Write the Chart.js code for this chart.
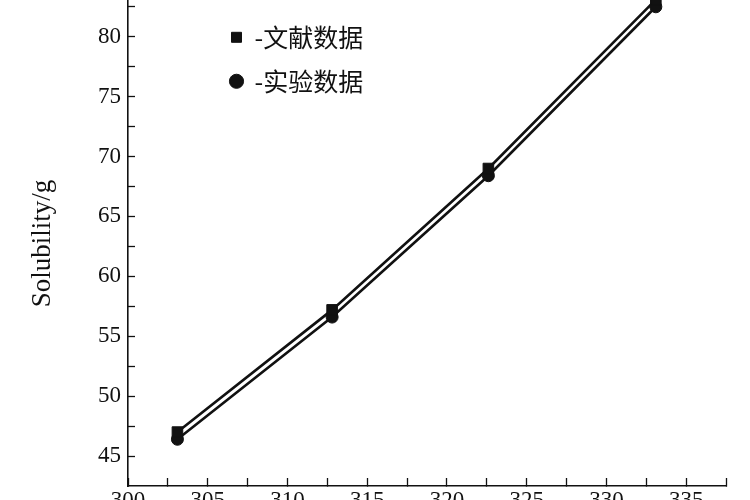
<!DOCTYPE html>
<html>
<head>
<meta charset="utf-8">
<script src="https://cdn.jsdelivr.net/npm/chart.js@4/dist/chart.umd.min.js"></script>
<style>
  html, body { margin: 0; padding: 0; background: #fff; overflow: hidden; width: 750px; height: 500px; }
  #wrap { position: absolute; left: 0; top: -27px; width: 750px; height: 547px; }
</style>
</head>
<body>
<div id="wrap"><canvas id="c"></canvas></div>
<script>
// Temperature (K)
const temperature = [303.1, 312.8, 322.6, 333.1];
// Series: 文献数据 (literature) and 实验数据 (experiment), solubility in g
const literatureData = [47.0, 57.2, 69.0, 83.1];
const experimentData = [46.4, 56.6, 68.4, 82.5];
const seriesLabels = ['文献数据', '实验数据'];
// Tick values
const xTickValues = [300, 302.5, 305, 307.5, 310, 312.5, 315, 317.5, 320, 322.5, 325, 327.5, 330, 332.5, 335, 337.5];
const yTickValues = [45, 47.5, 50, 52.5, 55, 57.5, 60, 62.5, 65, 67.5, 70, 72.5, 75, 77.5, 80, 82.5];
const yTitle = 'Solubility/g';

const ink = '#111';
const serif = "'Liberation Serif', 'Times New Roman', serif";

const toPoints = (ys) => temperature.map((x, i) => ({ x: x, y: ys[i] }));

const legendShift = {
  id: 'legendShift',
  afterLayout(chart) {
    const lg = chart.legend;
    if (!lg) return;
    lg.left = chart.chartArea.left + 84;
    lg.top = chart.chartArea.top + 5;
  }
};

new Chart(document.getElementById('c'), {
  type: 'line',
  data: {
    datasets: [
      {
        label: seriesLabels[0],
        data: toPoints(literatureData),
        borderColor: ink,
        backgroundColor: ink,
        borderWidth: 2.6,
        pointStyle: 'rect',
        pointRadius: 7.5,
        pointBackgroundColor: ink,
        pointBorderColor: ink,
        pointBorderWidth: 1,
        tension: 0,
        clip: false
      },
      {
        label: seriesLabels[1],
        data: toPoints(experimentData),
        borderColor: ink,
        backgroundColor: ink,
        borderWidth: 2.6,
        pointStyle: 'circle',
        pointRadius: 6,
        pointBackgroundColor: ink,
        pointBorderColor: ink,
        pointBorderWidth: 1,
        tension: 0,
        clip: false
      }
    ]
  },
  options: {
    responsive: true,
    maintainAspectRatio: false,
    animation: false,
    layout: { autoPadding: false, padding: { left: 0, right: 24, top: 0, bottom: 0 } },
    plugins: {
      tooltip: { enabled: false },
      legend: {
        position: 'chartArea',
        align: 'start',
        labels: {
          usePointStyle: true,
          boxWidth: 11,
          boxHeight: 10,
          padding: 19,
          color: ink,
          font: { family: "'Noto Sans CJK SC', sans-serif", size: 25 },
          generateLabels(chart) {
            return Chart.defaults.plugins.legend.labels.generateLabels(chart).map(it => {
              it.text = '-' + it.text;
              return it;
            });
          }
        }
      }
    },
    scales: {
      x: {
        type: 'linear',
        min: 300,
        max: 337.5,
        afterBuildTicks(scale) { scale.ticks = xTickValues.map(v => ({ value: v })); },
        afterFit(scale) { scale.height = 34; },
        grid: {
          display: true,
          drawOnChartArea: false,
          drawTicks: true,
          tickLength: -8,
          tickColor: ink,
          tickWidth: 1.3
        },
        border: { display: true, color: ink, width: 1.6 },
        ticks: {
          autoSkip: false,
          maxRotation: 0,
          padding: 9,
          color: ink,
          font: { family: serif, size: 23 },
          callback: (v) => (v % 5 === 0 ? String(v) : '')
        }
      },
      y: {
        type: 'linear',
        min: 42.5,
        max: 83,
        afterBuildTicks(scale) { scale.ticks = yTickValues.map(v => ({ value: v })); },
        afterFit(scale) { scale.width = 128; },
        grid: {
          display: true,
          drawOnChartArea: false,
          drawTicks: true,
          tickLength: -7,
          tickColor: ink,
          tickWidth: 1.3
        },
        border: { display: true, color: ink, width: 1.6 },
        title: {
          display: true,
          text: yTitle,
          color: ink,
          font: { family: serif, size: 27 },
          padding: { top: 27, bottom: 0 }
        },
        ticks: {
          autoSkip: false,
          padding: 14,
          color: ink,
          font: { family: serif, size: 23 },
          callback: (v) => (v % 5 === 0 ? String(v) : '')
        }
      }
    }
  },
  plugins: [legendShift]
});
</script>
</body>
</html>
